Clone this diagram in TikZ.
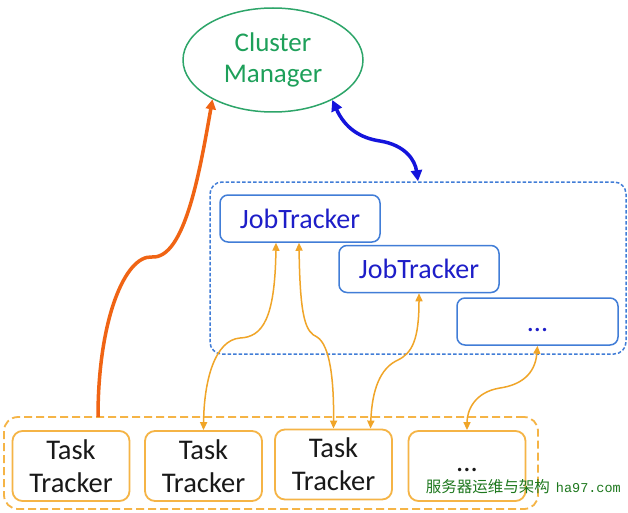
\documentclass[tikz,border=0pt]{standalone}
\usepackage{fontspec}
\setmainfont{Carlito}
\newfontfamily\cjkfont{Noto Sans CJK SC}
\newfontfamily\wmmono{Liberation Mono}
\usetikzlibrary{shapes.geometric,arrows.meta}
\definecolor{cmgreen}{RGB}{45,165,105}
\definecolor{cmtext}{RGB}{30,160,90}
\definecolor{jtborder}{RGB}{65,125,215}
\definecolor{jttext}{RGB}{30,30,200}
\definecolor{bluearrow}{RGB}{20,20,220}
\definecolor{ttborder}{RGB}{245,180,70}
\definecolor{tharrow}{RGB}{240,165,40}
\definecolor{thickor}{RGB}{240,100,20}
\definecolor{tttext}{RGB}{25,25,25}
\definecolor{wmgreen}{RGB}{30,120,30}
\begin{document}
\begin{tikzpicture}[x=1pt,y=-1pt,
  cmstyle/.style={ellipse,draw=cmgreen,line width=1.5pt,minimum width=180pt,minimum height=104pt,inner sep=0pt,
    text=cmtext,align=center,font=\fontsize{27}{31}\selectfont},
  bluecont/.style={draw=jtborder,line width=1.5pt,dash pattern=on 3.5pt off 2pt,rounded corners=12pt,
    minimum width=416pt,minimum height=172pt,inner sep=0pt},
  orcont/.style={draw=ttborder,line width=1.8pt,dash pattern=on 8pt off 4pt,rounded corners=14pt,
    minimum width=534pt,minimum height=92pt,inner sep=0pt},
  jtbox/.style={draw=jtborder,line width=1.5pt,rounded corners=8pt,fill=white,minimum width=160pt,minimum height=47pt,
    inner sep=0pt,text=jttext,font=\fontsize{28}{30}\selectfont},
  ttbox/.style={draw=ttborder,line width=1.8pt,rounded corners=10pt,minimum width=117pt,minimum height=70pt,
    inner sep=0pt,text=tttext,align=center,font=\fontsize{28.5}{33}\selectfont},
  thinarrow/.style={draw=tharrow,line width=1.5pt,{Triangle[length=8pt,width=7pt]}-{Triangle[length=8pt,width=7pt]}},
  bluearr/.style={draw=bluearrow,line width=3.5pt,{Triangle[length=11pt,width=11pt]}-{Triangle[length=11pt,width=11pt]}},
  thickarr/.style={draw=thickor,line width=3.5pt,-{Triangle[length=10pt,width=10pt]}}
]
\useasboundingbox (0,0) rectangle (628,513);
\fill[white] (0,0) rectangle (628,513);

\node[cmstyle] (cm) at (273,60) {Cluster\\Manager};

\node[bluecont] (bc) at (418,268) {};
\node[jtbox] (jt1) at (300,218.5) {JobTracker};
\node[jtbox] (jt2) at (419,269) {JobTracker};
\node[jtbox,minimum width=161pt,text height=20pt,text depth=0pt] (jt3) at (537.5,321.5) {...};

\node[orcont] (oc) at (271,463) {};
\node[ttbox] (tt1) at (71,466) {Task\\Tracker};
\node[ttbox] (tt2) at (203.5,466) {Task\\Tracker};
\node[ttbox] (tt3) at (333.5,464.5) {Task\\Tracker};
\node[ttbox,text height=11pt,text depth=0pt] (tt4) at (467,466) {...};

\coordinate (ostart) at (98,417);
\coordinate (j1a) at ([xshift=-24pt]jt1.south);
\coordinate (j1b) at ([xshift=-1pt]jt1.south);
\coordinate (t3b) at ([xshift=37pt]tt3.north);

% thick orange arrow
\draw[thickarr] (ostart) .. controls (98,320) and (125,255) .. (152,257)
  .. controls (185,259) and (200,170) .. (cm.213);
% blue arrow
\draw[bluearr] (cm.-34) .. controls (345,128) and (360,138) .. (380,141)
  .. controls (405,145) and (415,160) .. (bc.north);
% thin orange arrows
\draw[thinarrow] (j1a) .. controls (275,320) and (262,337) .. (240,338)
  .. controls (215,340) and (204,380) .. (tt2.north);
\draw[thinarrow] (j1b) .. controls (300,320) and (306,332) .. (317,337)
  .. controls (330,345) and (334,380) .. (tt3.north);
\draw[thinarrow] (jt2.south) .. controls (419,340) and (412,353) .. (398,360)
  .. controls (380,368) and (372,390) .. (t3b);
\draw[thinarrow] (jt3.south) .. controls (535,375) and (520,385) .. (500,388)
  .. controls (475,392) and (467,410) .. (tt4.north);

\node[anchor=base east,inner sep=0pt,text=wmgreen] (wm) at (621,492)
  {{\cjkfont\fontsize{15.5}{18}\selectfont 服务器运维与架构}\hspace{6pt}{\wmmono\fontsize{13.5}{16}\selectfont ha97.com}};
\end{tikzpicture}
\end{document}
